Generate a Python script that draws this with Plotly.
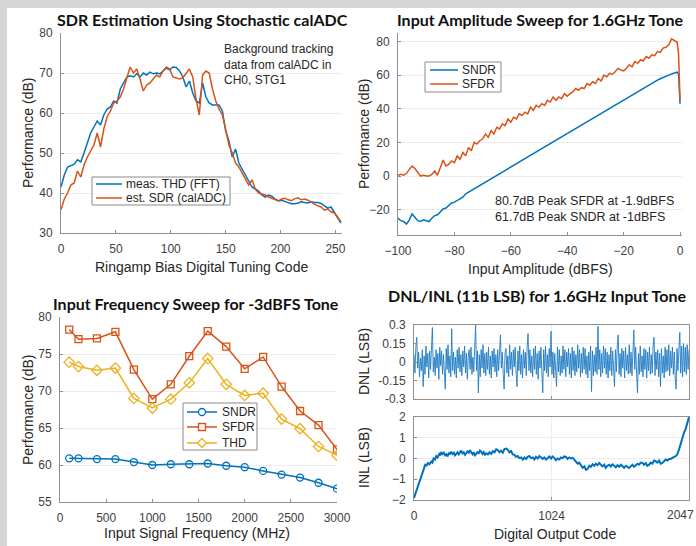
import numpy as np
import plotly.graph_objects as go

W, H = 696, 546
BLUE = "#0072BD"
ORANGE = "#D95319"
YELLOW = "#EDB120"
FONT = "Liberation Sans, Arial, sans-serif"
TFONT = "Lato, Open Sans, sans-serif"

# ---------------- Panel 1: SDR estimation ----------------
tune_code = list(range(0, 256, 3))
thd_meas = [41.5, 44.5, 46.5, 46.8, 47.2, 48.3, 47.8, 50.0, 52.5, 55.0,
            56.5, 58.0, 57.0, 59.5, 61.0, 61.5, 63.0, 62.5, 66.0, 67.5,
            69.0, 69.3, 69.0, 69.8, 69.0, 70.0, 69.5, 70.2, 69.8, 70.0,
            69.8, 70.5, 71.2, 70.8, 71.5, 71.4, 70.5, 69.0, 66.5, 68.0,
            65.0, 63.0, 62.5, 67.5, 64.0, 62.5, 62.0, 62.0, 62.0, 60.5,
            55.5, 53.0, 49.0, 51.0, 47.5, 46.0, 44.5, 43.0, 41.5, 41.0,
            40.5, 39.5, 39.0, 39.5, 39.2, 38.5, 38.0, 38.2, 37.8, 37.6,
            37.3, 37.3, 37.5, 37.8, 37.6, 37.5, 37.8, 37.6, 37.6, 37.4,
            36.8, 36.2, 36.5, 35.2, 34.0, 32.5]
sdr_est = [35.8, 38.5, 40.0, 42.0, 42.5, 45.5, 44.0, 47.0, 49.0, 50.5,
           52.0, 55.0, 51.5, 56.0, 59.0, 60.5, 62.5, 63.0, 64.0, 66.0,
           69.0, 71.5, 70.0, 71.0, 68.5, 65.5, 67.0, 67.5, 68.5, 69.5,
           69.0, 70.5, 71.5, 71.0, 69.0, 68.7, 68.5, 68.8, 70.0, 71.0,
           69.0, 63.5, 59.5, 69.5, 70.5, 70.0, 66.0, 63.0, 61.0, 59.5,
           56.0, 52.0, 50.0, 47.5, 46.5, 45.0, 43.5, 42.0, 43.3, 41.0,
           40.0, 39.8, 39.5, 39.0, 38.6, 38.3, 38.0, 38.5, 38.7, 38.3,
           38.1, 38.6, 38.8, 38.3, 38.5, 38.2, 37.6, 37.2, 36.8, 36.5,
           35.7, 36.0, 35.3, 35.0, 34.0, 32.8]

# ---------------- Panel 2: amplitude sweep ----------------
amp_dbfs = list(range(-100, 0)) + [-0.5, 0]
sndr_amp = [-25.0, -26.5, -27.0, -28.5, -26.0, -22.5, -24.5, -26.5, -27.0, -26.0,
            -26.5, -27.0, -25.0, -23.5, -23.0, -21.0, -19.5, -19.0, -17.5, -16.0,
            -15.5, -14.5, -13.5, -12.5, -10.5, -9.5, -8.5, -7.5, -6.5, -5.5,
            -4.5, -3.5, -2.5, -1.5, -0.5, 0.5, 1.5, 2.5, 3.5, 4.5,
            5.5, 6.5, 7.5, 8.5, 9.5, 10.5, 11.5, 12.5, 13.5, 14.5,
            15.5, 16.5, 17.5, 18.5, 19.5, 20.5, 21.5, 22.5, 23.5, 24.5,
            25.5, 26.5, 27.5, 28.5, 29.5, 30.5, 31.5, 32.5, 33.5, 34.5,
            35.5, 36.5, 37.5, 38.5, 39.5, 40.5, 41.5, 42.5, 43.5, 44.5,
            45.5, 46.5, 47.5, 48.5, 49.5, 50.5, 51.5, 52.5, 53.4, 54.3,
            55.2, 56.1, 57.0, 57.8, 58.6, 59.3, 60.0, 60.7, 61.2, 61.7,
            60.5, 43.0]
sfdr_amp = [0.5, 1.0, 0.5, 1.5, 4.0, 6.0, 4.5, 2.0, 0.0, 0.5,
            0.0, 0.0, 1.0, 3.0, 0.5, 5.0, 9.5, 6.0, 7.0, 9.0,
            8.0, 12.0, 10.0, 14.0, 12.0, 17.0, 15.0, 20.0, 19.0, 21.0,
            22.0, 25.0, 23.0, 27.0, 25.0, 29.0, 28.0, 31.0, 30.0, 34.0,
            32.0, 35.0, 34.0, 37.0, 36.0, 38.0, 37.0, 41.0, 39.0, 42.0,
            41.0, 43.0, 42.0, 45.0, 44.0, 47.0, 45.0, 47.0, 46.0, 49.0,
            47.5, 49.0, 50.0, 52.0, 51.0, 52.5, 52.0, 55.0, 54.0, 56.0,
            55.0, 58.0, 56.5, 60.0, 59.0, 61.0, 60.5, 62.0, 64.0, 63.0,
            62.5, 64.0, 66.0, 65.0, 68.0, 67.0, 69.0, 68.5, 71.0, 70.0,
            72.0, 71.5, 74.0, 73.5, 76.0, 76.5, 78.0, 81.5, 80.7, 79.5,
            72.0, 45.0]

# ---------------- Panel 3: frequency sweep ----------------
freq_mhz = [100, 200, 400, 600, 800, 1000, 1200, 1400, 1600, 1800,
            2000, 2200, 2400, 2600, 2800, 3000]
sndr_f = [60.9, 60.9, 60.8, 60.8, 60.4, 60.0, 60.1, 60.1, 60.2, 59.9,
          59.7, 59.2, 58.7, 58.3, 57.6, 56.8]
sfdr_f = [78.3, 77.0, 77.1, 78.0, 72.9, 68.9, 70.9, 74.7, 78.1, 76.0,
          73.0, 74.6, 70.6, 67.3, 65.4, 62.1]
thd_f = [73.9, 73.3, 72.8, 73.1, 69.0, 67.7, 68.9, 71.1, 74.4, 70.9,
         69.4, 69.7, 66.2, 64.9, 62.5, 61.3]

# ---------------- Panel 4: DNL / INL ----------------
dnl = [0.06, -0.09, 0.12, 0.2, -0.05, 0.08, -0.12, 0.03, -0.07, 0.1, -0.2, 0.05, -0.1, 0.13, -0.04, 0.07, -0.13, 0.09, -0.06, 0.11,
       0.28, -0.08, 0.04, -0.11, 0.1, -0.05, 0.07, -0.14, 0.12, -0.03, 0.09, -0.1, 0.06, -0.08, -0.22, 0.11, -0.06, 0.14, -0.09, 0.05,
       -0.12, 0.27, -0.07, 0.08, -0.1, 0.04, -0.13, 0.1, -0.05, 0.12, -0.08, 0.06, -0.11, 0.09, -0.04, 0.13, -0.09, 0.07, -0.14, 0.05,
       0.1, -0.06, 0.12, -0.1, 0.04, -0.08, 0.11, 0.3, -0.07, 0.09, -0.25, 0.06, -0.12, 0.1, -0.05, 0.14, -0.09, 0.07, -0.11, 0.08,
       -0.06, 0.12, -0.1, 0.05, -0.13, 0.09, -0.04, 0.11, -0.08, 0.06, -0.12, 0.1, -0.07, 0.13, 0.22, -0.05, 0.08, -0.1, -0.22, 0.07,
       0.11, -0.09, 0.05, -0.12, 0.14, -0.06, 0.08, -0.11, 0.1, -0.04, 0.12, -0.08, -0.2, 0.09, -0.07, 0.13, -0.1, 0.06, -0.13, 0.1,
       -0.05, 0.08, -0.11, 0.12, 0.23, -0.07, 0.1, -0.09, 0.05, -0.12, 0.11, -0.06, 0.13, -0.1, 0.07, -0.14, 0.09, -0.05, 0.12, -0.08,
       -0.25, 0.1, -0.07, 0.13, -0.09, 0.06, -0.12, 0.11, -0.04, 0.25, -0.1, 0.08, -0.13, 0.07, -0.06, -0.2, 0.12, -0.08, 0.1, -0.11,
       0.05, -0.09, 0.13, -0.06, 0.1, -0.12, 0.08, -0.04, 0.11, -0.1, 0.07, -0.13, 0.12, -0.07, 0.09, -0.11, 0.06, -0.08, 0.14, -0.05,
       0.1, -0.12, 0.07, -0.09, 0.12, -0.06, 0.11, -0.1, 0.05, -0.13, 0.08, -0.07, 0.13, -0.24, 0.09, -0.11, 0.06, -0.08, 0.12, -0.1,
       0.29, -0.06, 0.1, -0.12, 0.07, -0.09, 0.13, -0.05, 0.11, -0.1, 0.08, -0.13, 0.06, -0.07, 0.12, -0.11, 0.09, -0.06, -0.2, 0.1,
       -0.08, 0.13, 0.22, -0.1, 0.07, -0.12, 0.11, -0.05, 0.09, -0.13, 0.12, -0.07, 0.06, -0.1, 0.14, -0.09, 0.08, -0.11, 0.1, 0.26,
       -0.06, 0.12, -0.09, -0.25, 0.07, -0.1, 0.13, -0.08, 0.05, -0.12, 0.11, -0.06, 0.1, -0.13, 0.08, -0.07, 0.12, -0.1, 0.06, -0.09,
       0.13, 0.2, -0.11, 0.08, -0.06, 0.1, -0.12, 0.07, -0.2, 0.11, -0.09, 0.05, -0.13, 0.12, -0.08, 0.1, -0.07, 0.14, -0.11, 0.09,
       -0.05, 0.12, -0.1, 0.08, -0.13, -0.22, 0.11, -0.07, 0.1, 0.24, -0.09, 0.13, -0.12, 0.15, -0.08, 0.12, -0.1, 0.14, -0.06, 0.1]
dnl_code = np.linspace(0, 2047, len(dnl))

inl_code = [0, 10, 17, 30, 42, 54, 65, 75, 84, 94, 104, 115, 129, 137, 146, 156, 166, 176, 188, 196,
            203, 212, 222, 231, 240, 250, 260, 268, 277, 287, 296, 305, 314, 324, 333, 342, 351, 361, 370, 380,
            389, 398, 408, 417, 426, 436, 445, 454, 463, 472, 482, 491, 500, 510, 519, 528, 537, 550, 562, 575,
            587, 600, 612, 624, 636, 648, 661, 673, 686, 698, 710, 723, 735, 748, 760, 772, 785, 797, 810, 822,
            834, 846, 859, 871, 884, 896, 908, 921, 933, 945, 958, 970, 983, 995, 1008, 1020, 1032, 1045, 1057, 1069,
            1082, 1094, 1106, 1118, 1131, 1143, 1156, 1168, 1181, 1193, 1205, 1218, 1230, 1243, 1255, 1268, 1280, 1292, 1305, 1317,
            1329, 1342, 1354, 1366, 1379, 1391, 1403, 1416, 1428, 1440, 1453, 1465, 1477, 1490, 1502, 1515, 1527, 1540, 1552, 1564,
            1577, 1589, 1601, 1614, 1626, 1638, 1651, 1663, 1675, 1688, 1700, 1712, 1725, 1737, 1750, 1762, 1774, 1787, 1799, 1811,
            1824, 1836, 1849, 1861, 1874, 1886, 1899, 1911, 1923, 1936, 1948, 1960, 1973, 1985, 1997, 2010, 2022, 2035, 2047]
inl = [-1.9, -1.7, -1.55, -1.3, -1.05, -0.85, -0.6, -0.45, -0.3, -0.33, -0.22, -0.28, -0.15, -0.2, 0.0, -0.05, 0.12, 0.05, 0.22, 0.15,
       0.31, 0.22, 0.28, 0.15, 0.2, 0.1, 0.28, 0.2, 0.33, 0.22, 0.28, 0.15, 0.22, 0.3, 0.2, 0.32, 0.38, 0.25, 0.3, 0.18,
       0.25, 0.35, 0.28, 0.4, 0.3, 0.2, 0.3, 0.15, 0.22, 0.3, 0.25, 0.38, 0.33, 0.22, 0.3, 0.18, 0.25, 0.2, 0.3, 0.22,
       0.35, 0.3, 0.45, 0.4, 0.3, 0.38, 0.28, 0.45, 0.48, 0.42, 0.3, 0.36, 0.2, 0.18, 0.08, 0.12, 0.02, 0.05, -0.05, 0.05,
       -0.02, 0.08, 0.12, 0.02, 0.05, -0.05, 0.08, 0.0, 0.12, 0.05, -0.02, 0.05, -0.05, 0.02, 0.1, 0.0, 0.1, 0.02, -0.08, 0.0,
       -0.05, 0.05, 0.02, 0.1, 0.08, -0.02, 0.05, 0.0, 0.03, -0.05, -0.15, -0.25, -0.2, -0.35, -0.45, -0.38, -0.55, -0.5, -0.35, -0.4,
       -0.28, -0.35, -0.25, -0.32, -0.22, -0.3, -0.38, -0.3, -0.45, -0.35, -0.3, -0.38, -0.28, -0.35, -0.42, -0.32, -0.4, -0.3, -0.38, -0.45,
       -0.35, -0.42, -0.46, -0.38, -0.3, -0.4, -0.34, -0.25, -0.3, -0.2, -0.21, -0.3, -0.22, -0.35, -0.3, -0.2, -0.25, -0.1, -0.13, -0.2,
       -0.1, -0.25, -0.21, -0.12, -0.05, -0.1, -0.02, -0.02, 0.05, 0.08, 0.11, 0.2, 0.44, 0.7, 1.02, 1.25, 1.43, 1.7, 2.0]


def fx(p):
    return p / W


def fy(p):
    return 1 - p / H


fig = go.Figure()

# Panel 1
fig.add_trace(go.Scatter(x=tune_code, y=thd_meas, mode="lines", name="meas. THD (FFT)",
                         line=dict(color=BLUE, width=1.5), xaxis="x", yaxis="y"))
fig.add_trace(go.Scatter(x=tune_code, y=sdr_est, mode="lines", name="est. SDR (calADC)",
                         line=dict(color=ORANGE, width=1.5), xaxis="x", yaxis="y"))
# Panel 2
fig.add_trace(go.Scatter(x=amp_dbfs, y=sndr_amp, mode="lines", name="SNDR",
                         line=dict(color=BLUE, width=1.5), xaxis="x2", yaxis="y2"))
fig.add_trace(go.Scatter(x=amp_dbfs, y=sfdr_amp, mode="lines", name="SFDR",
                         line=dict(color=ORANGE, width=1.5), xaxis="x2", yaxis="y2"))
# Panel 3
fig.add_trace(go.Scatter(x=freq_mhz, y=sndr_f, mode="lines+markers", name="SNDR",
                         line=dict(color=BLUE, width=1.5),
                         marker=dict(symbol="circle-open", size=7, color=BLUE, line=dict(width=1.3)),
                         xaxis="x3", yaxis="y3"))
fig.add_trace(go.Scatter(x=freq_mhz, y=sfdr_f, mode="lines+markers", name="SFDR",
                         line=dict(color=ORANGE, width=1.5),
                         marker=dict(symbol="square-open", size=7, color=ORANGE, line=dict(width=1.3)),
                         xaxis="x3", yaxis="y3"))
fig.add_trace(go.Scatter(x=freq_mhz, y=thd_f, mode="lines+markers", name="THD",
                         line=dict(color=YELLOW, width=1.5),
                         marker=dict(symbol="diamond-open", size=8, color=YELLOW, line=dict(width=1.3)),
                         xaxis="x3", yaxis="y3"))
# Panel 4
fig.add_trace(go.Scatter(x=dnl_code, y=dnl, mode="lines",
                         line=dict(color="#1f7cc4", width=0.9), xaxis="x4", yaxis="y4"))
fig.add_trace(go.Scatter(x=inl_code, y=inl, mode="lines",
                         line=dict(color=BLUE, width=2), xaxis="x5", yaxis="y5"))

AX = "#8f8f8f"
GRID = "#ececec"
TICKF = dict(family=FONT, size=12, color="#404040")


def xax(domain, rng, tickvals, ticktext=None, anchor="y", showlabels=True, grid=False, mirror=False):
    d = dict(domain=[fx(domain[0]), fx(domain[1])], range=rng, tickvals=tickvals,
             showline=True, linecolor=AX, linewidth=1, ticks="inside", ticklen=3,
             tickcolor=AX, tickfont=TICKF, showgrid=grid, gridcolor=GRID, zeroline=False,
             anchor=anchor, showticklabels=showlabels, mirror=mirror, automargin=False,
             ticklabelstandoff=5)
    if ticktext is not None:
        d["ticktext"] = ticktext
    return d


def yax(domain, rng, tickvals, ticktext=None, anchor="x", mirror=False):
    d = dict(domain=[fy(domain[1]), fy(domain[0])], range=rng, tickvals=tickvals,
             showline=True, linecolor=AX, linewidth=1, ticks="inside", ticklen=3,
             tickcolor=AX, tickfont=TICKF, showgrid=True, gridcolor=GRID, zeroline=False,
             anchor=anchor, mirror=mirror, automargin=False, ticklabelstandoff=5)
    if ticktext is not None:
        d["ticktext"] = ticktext
    return d


fig.update_layout(
    width=W, height=H, margin=dict(l=0, r=0, t=0, b=0, autoexpand=False),
    paper_bgcolor="#d6d6d6", plot_bgcolor="white", showlegend=False,
    xaxis=xax((61, 342), [0, 256], [0, 50, 100, 150, 200, 250], anchor="y"),
    yaxis=yax((33, 233), [30, 80], [30, 40, 50, 60, 70, 80], anchor="x"),
    xaxis2=xax((398, 682), [-100, 0.7], [-100, -80, -60, -40, -20, 0], anchor="y2"),
    yaxis2=yax((33, 235), [-35, 85], [-20, 0, 20, 40, 60, 80], anchor="x2"),
    xaxis3=xax((60, 337), [0, 3000], [0, 500, 1000, 1500, 2000, 2500, 3000], anchor="y3"),
    yaxis3=yax((317, 502), [55, 80], [55, 60, 65, 70, 75, 80], anchor="x3"),
    xaxis4=xax((414, 689), [0, 2047], [0, 1024, 2047], anchor="y4", showlabels=False, grid=True, mirror=True),
    yaxis4=yax((325, 399), [-0.3, 0.3], [-0.3, -0.15, 0, 0.15, 0.3],
               ["-0.3", "-0.15", "0", "0.15", "0.3"], anchor="x4", mirror=True),
    xaxis5=xax((414, 689), [0, 2047], [0, 1024, 2047], ["0", "1024", ""], anchor="y5", grid=True, mirror=True),
    yaxis5=yax((417, 500), [-2, 2], [-2, -1, 0, 1, 2], anchor="x5", mirror=True),
)

shapes = []
# White page inside the grey frame
shapes.append(dict(type="rect", xref="paper", yref="paper", x0=fx(7), x1=1, y0=0, y1=fy(8),
                   fillcolor="white", line=dict(width=0), layer="below"))

LEG_BORDER = "#8a8a8a"


def legend_box(x0, y0, x1, y1):
    shapes.append(dict(type="rect", xref="paper", yref="paper", x0=fx(x0), x1=fx(x1), y0=fy(y1), y1=fy(y0),
                       fillcolor="white", line=dict(color=LEG_BORDER, width=1), layer="above"))


def legend_line(x0, x1, y, color):
    shapes.append(dict(type="line", xref="paper", yref="paper", x0=fx(x0), x1=fx(x1), y0=fy(y), y1=fy(y),
                       line=dict(color=color, width=1.5), layer="above"))


ann = []


def text(x, y, s, size=14, bold=False, angle=0, xanchor="center", align="center", family=FONT, color="#262626"):
    ann.append(dict(x=fx(x), y=fy(y), xref="paper", yref="paper", text=s, showarrow=False,
                    font=dict(family=family, size=size, color=color), textangle=angle,
                    xanchor=xanchor, yanchor="middle", align=align))


# Legend: panel 1
legend_box(92, 177, 230, 205)
legend_line(96, 122, 184, BLUE)
legend_line(96, 122, 198, ORANGE)
text(124, 184, "meas. THD (FFT)", size=12, xanchor="left")
text(124, 198, "est. SDR (calADC)", size=12, xanchor="left")
# Legend: panel 2
legend_box(425, 62, 501, 92)
legend_line(430, 458, 70, BLUE)
legend_line(430, 458, 84, ORANGE)
text(460, 70, "SNDR", size=12, xanchor="left")
text(460, 84, "SFDR", size=12, xanchor="left")
# Legend: panel 3
legend_box(183, 403, 257, 450)
legend_line(187, 217, 412, BLUE)
legend_line(187, 217, 427, ORANGE)
legend_line(187, 217, 443, YELLOW)
shapes.append(dict(type="circle", xref="paper", yref="paper", x0=fx(198.5), x1=fx(205.5), y0=fy(415.5), y1=fy(408.5),
                   fillcolor="white", line=dict(color=BLUE, width=1.3), layer="above"))
shapes.append(dict(type="rect", xref="paper", yref="paper", x0=fx(198.5), x1=fx(205.5), y0=fy(430.5), y1=fy(423.5),
                   fillcolor="white", line=dict(color=ORANGE, width=1.3), layer="above"))
shapes.append(dict(type="path", xref="paper", yref="paper",
                   path="M %f,%f L %f,%f L %f,%f L %f,%f Z" % (fx(202), fy(438.5), fx(206.5), fy(443),
                                                               fx(202), fy(447.5), fx(197.5), fy(443)),
                   fillcolor="white", line=dict(color=YELLOW, width=1.3), layer="above"))
text(220, 412, "SNDR", size=12, xanchor="left")
text(220, 427, "SFDR", size=12, xanchor="left")
text(220, 443, "THD", size=12, xanchor="left")

# Titles
TCOL = "#111111"
text(202, 20, "<b>SDR Estimation Using Stochastic calADC</b>", size=16, family=TFONT, color=TCOL)
text(540, 20, "<b>Input Amplitude Sweep for 1.6GHz Tone</b>", size=16, family=TFONT, color=TCOL)
text(196, 303, "<b>Input Frequency Sweep for -3dBFS Tone</b>", size=16, family=TFONT, color=TCOL)
text(537, 295, "<b>DNL/INL (11b LSB) for 1.6GHz Input Tone</b>", size=16, family=TFONT, color=TCOL)
# Axis titles
text(201, 267, "Ringamp Bias Digital Tuning Code")
text(540, 269, "Input Amplitude (dBFS)")
text(197, 533, "Input Signal Frequency (MHz)")
text(555, 534, "Digital Output Code")
text(28, 133, "Performance (dB)", angle=-90)
text(364, 134, "Performance (dB)", angle=-90)
text(28, 410, "Performance (dB)", angle=-90)
text(364, 362, "DNL (LSB)", angle=-90)
text(364, 458, "INL (LSB)", angle=-90)
# last tick label of the INL code axis (kept inside the page)
text(680, 515, "2047", size=12, color="#404040")
# In-plot notes
text(222, 64, "Background tracking<br>data from calADC in<br>CH0, STG1", size=12, xanchor="left", align="left")
text(493, 209, "80.7dB Peak SFDR at -1.9dBFS<br>61.7dB Peak SNDR at -1dBFS", size=12.5, xanchor="left", align="left")

fig.update_layout(annotations=ann, shapes=shapes)
fig.write_html("out.html", config={"displayModeBar": False},
               post_script="document.body.style.margin='0';document.body.style.overflow='hidden';")
